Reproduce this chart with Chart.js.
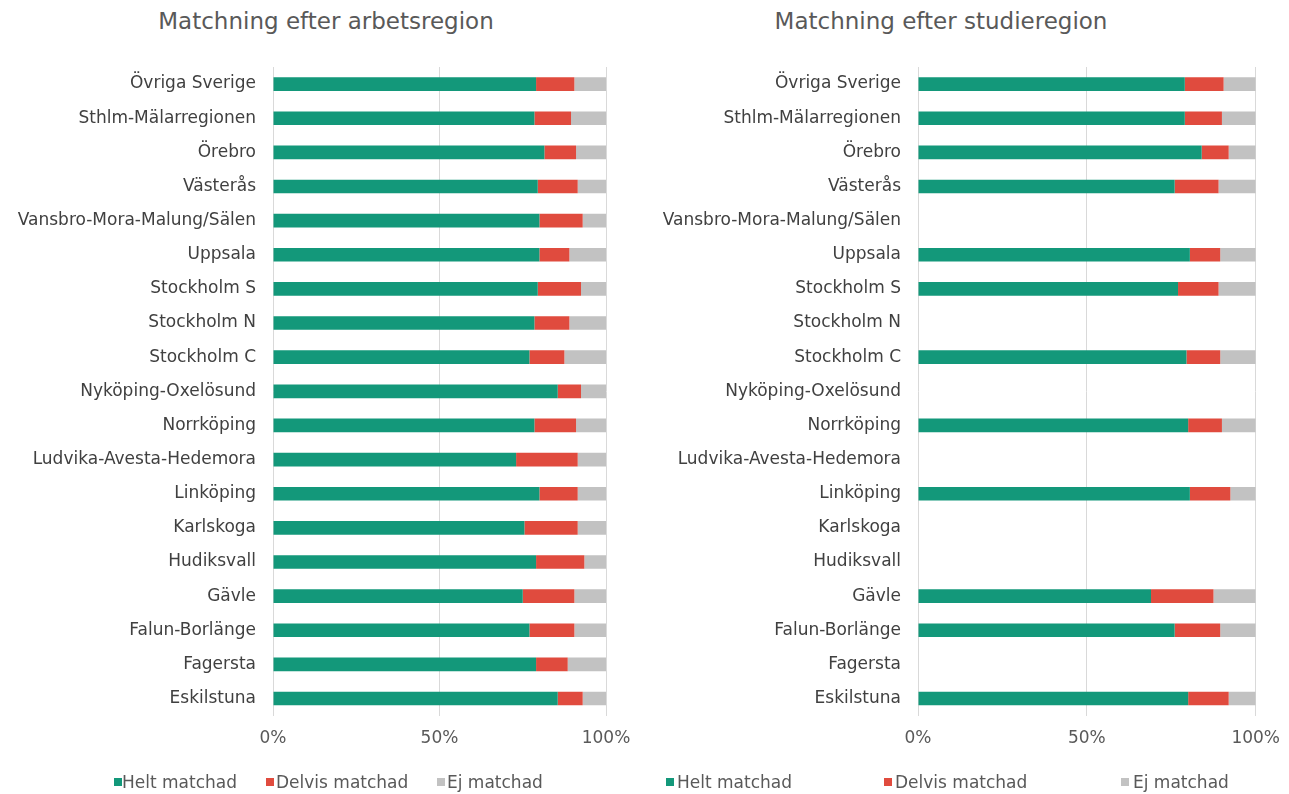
<!DOCTYPE html>
<html>
<head>
<meta charset="utf-8">
<script src="https://cdn.jsdelivr.net/npm/chart.js@4.4.1/dist/chart.umd.min.js"></script>
<style>
  html, body { margin: 0; padding: 0; background: #fff; }
  body { width: 1289px; height: 794px; position: relative; overflow: hidden; font-family: "DejaVu Sans", sans-serif; }
  .wrap { position: absolute; top: 0; height: 794px; }
  .title { position: absolute; top: 8px; width: 600px; margin-left: -300px; text-align: center;
           font-size: 23px; line-height: 27.6px; color: #595959; white-space: nowrap; }
  .legend { position: absolute; top: 770px; height: 24px; font-size: 17px; color: #595959; }
  .legend span { position: absolute; white-space: nowrap; line-height: 24px; }
  .legend i { position: absolute; width: 8px; height: 8px; top: 8px; }
</style>
</head>
<body>
<div class="title" id="workTitle" style="left:326px"></div>
<div class="title" id="studyTitle" style="left:941px"></div>
<div class="wrap" style="left:0;width:652px"><canvas id="workChart"></canvas></div>
<div class="wrap" style="left:600px;width:693px"><canvas id="studyChart"></canvas></div>
<div class="legend" id="workLegend" style="left:0"></div>
<div class="legend" id="studyLegend" style="left:0"></div>

<script>
// Regions, top to bottom
const regions = ['Övriga Sverige', 'Sthlm-Mälarregionen', 'Örebro', 'Västerås', 'Vansbro-Mora-Malung/Sälen',
  'Uppsala', 'Stockholm S', 'Stockholm N', 'Stockholm C', 'Nyköping-Oxelösund', 'Norrköping',
  'Ludvika-Avesta-Hedemora', 'Linköping', 'Karlskoga', 'Hudiksvall', 'Gävle', 'Falun-Borlänge',
  'Fagersta', 'Eskilstuna'];

const seriesNames = ['Helt matchad', 'Delvis matchad', 'Ej matchad'];
const seriesColors = ['#13987a', '#e04b3e', '#c2c2c2'];

// Matchning efter arbetsregion (%)
const workHelt   = [79, 78.5, 81.5, 79.5, 80, 80, 79.5, 78.5, 77, 85.5, 78.5, 73, 80, 75.5, 79, 75, 77, 79, 85.5];
const workDelvis = [11.5, 11, 9.5, 12, 13, 9, 13, 10.5, 10.5, 7, 12.5, 18.5, 11.5, 16, 14.5, 15.5, 13.5, 9.5, 7.5];
const workEj     = [9.5, 10.5, 9, 8.5, 7, 11, 7.5, 11, 12.5, 7.5, 9, 8.5, 8.5, 8.5, 6.5, 9.5, 9.5, 11.5, 7];

// Matchning efter studieregion (%), null = no data
const studyHelt   = [79, 79, 84, 76, null, 80.5, 77, null, 79.5, null, 80, null, 80.5, null, null, 69, 76, null, 80];
const studyDelvis = [11.5, 11, 8, 13, null, 9, 12, null, 10, null, 10, null, 12, null, null, 18.5, 13.5, null, 12];
const studyEj     = [9.5, 10, 8, 11, null, 10.5, 11, null, 10.5, null, 10, null, 7.5, null, null, 12.5, 10.5, null, 8];

const xTickValues = [0, 50, 100];
const xTickLabels = ['0%', '50%', '100%'];

const FONT = '"DejaVu Sans", sans-serif';

function makeChart(id, values, axisWidth, padRight) {
  const ctx = document.getElementById(id).getContext('2d');
  return new Chart(ctx, {
    type: 'bar',
    data: {
      labels: regions,
      datasets: values.map((arr, i) => ({
        label: seriesNames[i],
        data: arr,
        backgroundColor: seriesColors[i],
        borderWidth: 0,
        categoryPercentage: 1,
        barPercentage: 0.4
      }))
    },
    options: {
      indexAxis: 'y',
      responsive: true,
      maintainAspectRatio: false,
      animation: false,
      layout: { padding: { top: 67, right: padRight, bottom: 32, left: 0 } },
      plugins: {
        legend: { display: false },
        tooltip: { enabled: false }
      },
      scales: {
        x: {
          stacked: true,
          min: 0,
          max: 100,
          border: { display: false },
          grid: { color: '#d9d9d9', drawTicks: false },
          ticks: {
            stepSize: 50,
            padding: 13,
            color: '#595959',
            font: { family: FONT, size: 17 },
            callback: (v) => xTickLabels[xTickValues.indexOf(v)]
          }
        },
        y: {
          stacked: true,
          border: { display: false },
          grid: { display: false, drawTicks: false },
          ticks: { padding: 17, color: '#404040', font: { family: FONT, size: 17 }, autoSkip: false },
          afterFit: (scale) => { scale.width = axisWidth; }
        }
      }
    }
  });
}

document.getElementById('workTitle').textContent = 'Matchning efter arbetsregion';
document.getElementById('studyTitle').textContent = 'Matchning efter studieregion';

makeChart('workChart', [workHelt, workDelvis, workEj], 273, 46);
makeChart('studyChart', [studyHelt, studyDelvis, studyEj], 318, 27);

// Legends below each chart
function makeLegend(id, squares, texts) {
  const el = document.getElementById(id);
  seriesNames.forEach((name, i) => {
    const sq = document.createElement('i');
    sq.style.left = squares[i] + 'px';
    sq.style.background = seriesColors[i];
    el.appendChild(sq);
    const sp = document.createElement('span');
    sp.style.left = texts[i] + 'px';
    sp.textContent = name;
    el.appendChild(sp);
  });
}
makeLegend('workLegend', [114, 266, 437], [122, 276, 447]);
makeLegend('studyLegend', [666, 884, 1121], [677, 895, 1133]);
</script>
</body>
</html>
